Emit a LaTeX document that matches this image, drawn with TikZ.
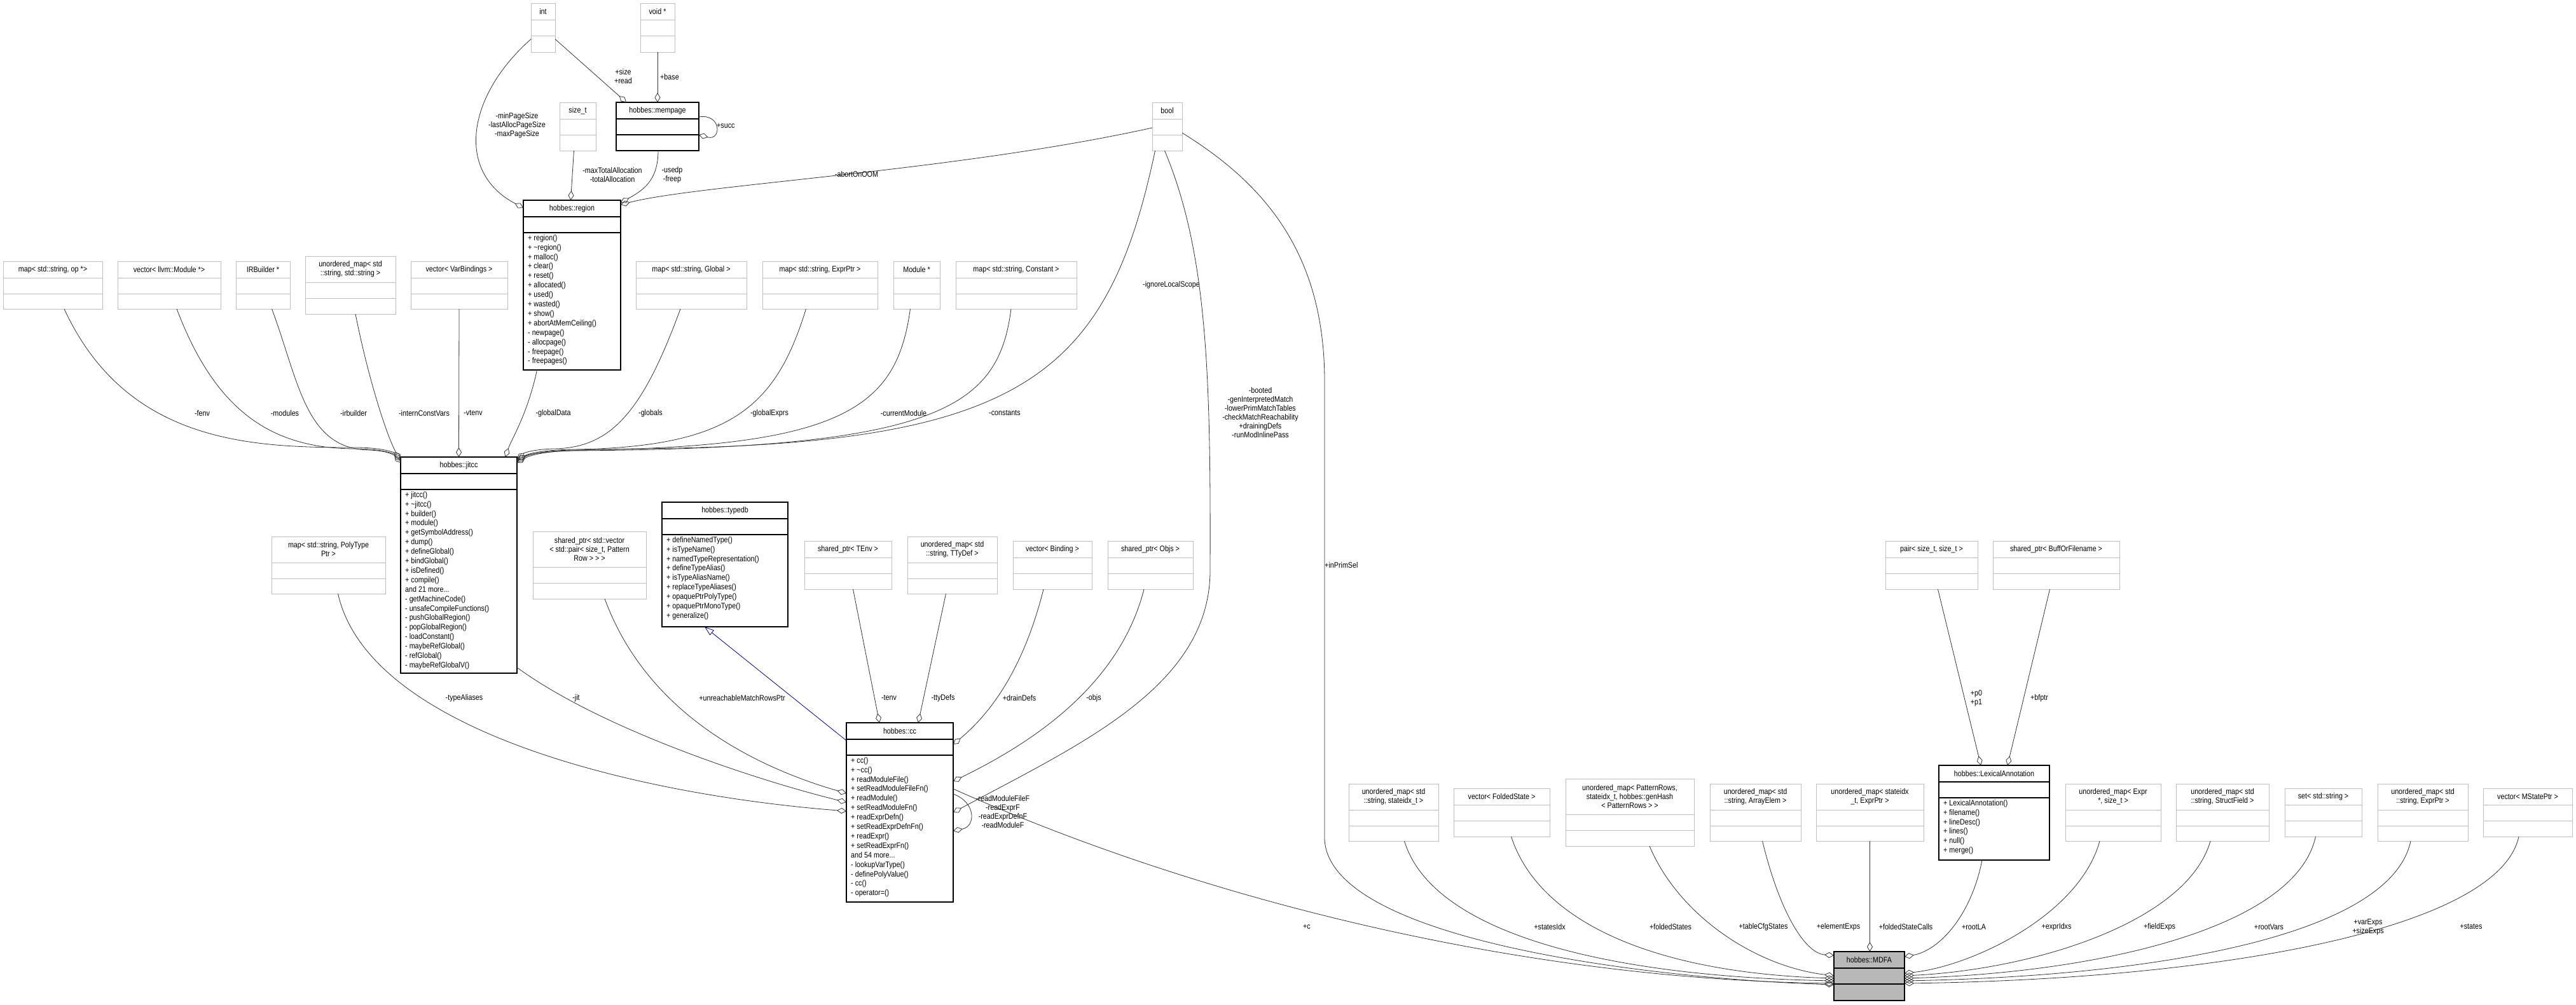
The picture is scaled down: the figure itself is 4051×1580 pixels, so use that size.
\documentclass[tikz,border=0pt]{standalone}
\usepackage{fontspec}
\setmainfont{Liberation Sans}[FakeStretch=0.86]
\usetikzlibrary{arrows.meta}
\tikzset{
  gbox/.style={draw=black!25, line width=0.9},
  kbox/.style={draw=black, line width=1.1},
  mbox/.style={draw=black, fill=black!28, line width=1.1},
  hdr/.style={font=\fontsize{12.5}{14}\selectfont, align=center, inner sep=0},
  meth/.style={font=\fontsize{12.5}{14.9}\selectfont, align=left, inner sep=0, anchor=north west},
  lbl/.style={font=\fontsize{12.5}{14}\selectfont, align=center, inner sep=0},
  agg/.style={draw=black!80, line width=0.8, -{Diamond[open,length=15pt,width=9pt]}},
  inh/.style={draw=blue!50!black, line width=0.8, -{Triangle[open,length=15pt,width=10pt]}},
}
% #1 name #2 style #3 x1 #4 y1 #5 x2 #6 y2 #7 header height #8 header text
\newcommand\ubox[8]{%
  \node[#2, anchor=north west, minimum width={#5-#3}, minimum height={#6-#4}, inner sep=0, outer sep=0] (#1) at (#3,#4) {};
  \draw[#2, fill=none] (#3,{#4+#7}) -- (#5,{#4+#7});
  \draw[#2, fill=none] (#3,{#4+#7+25}) -- (#5,{#4+#7+25});
  \node[hdr] at ({(#3+#5)/2},{#4+#7/2}) {#8};
}
\newcommand\umeth[4]{\node[meth] at ({#1+7},{#2+#3+25+3}) {#4};}
\begin{document}
\begin{tikzpicture}[x=1pt,y=-1pt]
\useasboundingbox (0,0) rectangle (4051,1580);
% boxes
\ubox{int}{gbox}{835}{5}{873}{82}{26}{int}
\ubox{void}{gbox}{1007}{5}{1061}{82}{26}{void *}
\ubox{mempage}{kbox}{969}{161}{1099}{237}{26}{hobbes::mempage}
\ubox{sizet}{gbox}{880}{161}{937}{237}{26}{size\_t}
\ubox{region}{kbox}{823}{315}{976}{582}{26}{hobbes::region}
\umeth{823}{315}{26}{+ region()\\+ \textasciitilde region()\\+ malloc()\\+ clear()\\+ reset()\\+ allocated()\\+ used()\\+ wasted()\\+ show()\\+ abortAtMemCeiling()\\- newpage()\\- allocpage()\\- freepage()\\- freepages()}
\ubox{bool}{gbox}{1812}{161}{1859}{237}{26}{bool}
\ubox{fenvB}{gbox}{5}{411}{161}{486}{26}{map< std::string, op *>}
\ubox{modB}{gbox}{185}{411}{347}{486}{26}{vector< llvm::Module *>}
\ubox{irbB}{gbox}{371}{411}{456}{486}{26}{IRBuilder *}
\ubox{icvB}{gbox}{480}{403}{622}{494}{41}{unordered\_map< std\\::string, std::string >}
\ubox{vtB}{gbox}{646}{411}{798}{486}{26}{vector< VarBindings >}
\ubox{globB}{gbox}{1000}{411}{1174}{486}{26}{map< std::string, Global >}
\ubox{gexB}{gbox}{1199}{411}{1380}{486}{26}{map< std::string, ExprPtr >}
\ubox{modpB}{gbox}{1405}{411}{1478}{486}{26}{Module *}
\ubox{constB}{gbox}{1503}{411}{1693}{486}{26}{map< std::string, Constant >}
\ubox{jitcc}{kbox}{630}{719}{813}{1059}{26}{hobbes::jitcc}
\umeth{630}{719}{26}{+ jitcc()\\+ \textasciitilde jitcc()\\+ builder()\\+ module()\\+ getSymbolAddress()\\+ dump()\\+ defineGlobal()\\+ bindGlobal()\\+ isDefined()\\+ compile()\\and 21 more...\\- getMachineCode()\\- unsafeCompileFunctions()\\- pushGlobalRegion()\\- popGlobalRegion()\\- loadConstant()\\- maybeRefGlobal()\\- refGlobal()\\- maybeRefGlobalV()}
\ubox{taB}{gbox}{427}{844}{606}{934}{41}{map< std::string, PolyType\\Ptr >}
\ubox{urB}{gbox}{838}{836}{1016}{942}{56}{shared\_ptr< std::vector\\< std::pair< size\_t, Pattern\\Row > > >}
\ubox{typedb}{kbox}{1041}{790}{1239}{986}{26}{hobbes::typedb}
\umeth{1041}{790}{26}{+ defineNamedType()\\+ isTypeName()\\+ namedTypeRepresentation()\\+ defineTypeAlias()\\+ isTypeAliasName()\\+ replaceTypeAliases()\\+ opaquePtrPolyType()\\+ opaquePtrMonoType()\\+ generalize()}
\ubox{tenvB}{gbox}{1265}{851}{1402}{927}{26}{shared\_ptr< TEnv >}
\ubox{ttyB}{gbox}{1427}{844}{1568}{934}{41}{unordered\_map< std\\::string, TTyDef >}
\ubox{bindB}{gbox}{1593}{851}{1717}{927}{26}{vector< Binding >}
\ubox{objsB}{gbox}{1742}{851}{1876}{927}{26}{shared\_ptr< Objs >}
\ubox{cc}{kbox}{1331}{1137}{1499}{1419}{26}{hobbes::cc}
\umeth{1331}{1137}{26}{+ cc()\\+ \textasciitilde cc()\\+ readModuleFile()\\+ setReadModuleFileFn()\\+ readModule()\\+ setReadModuleFn()\\+ readExprDefn()\\+ setReadExprDefnFn()\\+ readExpr()\\+ setReadExprFn()\\and 54 more...\\- lookupVarType()\\- definePolyValue()\\- cc()\\- operator=()}
\ubox{sidxB}{gbox}{2121}{1233}{2262}{1323}{41}{unordered\_map< std\\::string, stateidx\_t >}
\ubox{fsB}{gbox}{2286}{1240}{2437}{1316}{26}{vector< FoldedState >}
\ubox{prB}{gbox}{2462}{1225}{2664}{1331}{56}{unordered\_map< PatternRows,\\stateidx\_t, hobbes::genHash\\< PatternRows > >}
\ubox{aeB}{gbox}{2689}{1233}{2832}{1323}{41}{unordered\_map< std\\::string, ArrayElem >}
\ubox{fscB}{gbox}{2856}{1233}{3025}{1323}{41}{unordered\_map< stateidx\\\_t, ExprPtr >}
\ubox{pairB}{gbox}{2965}{851}{3110}{927}{26}{pair< size\_t, size\_t >}
\ubox{bofB}{gbox}{3134}{851}{3333}{927}{26}{shared\_ptr< BuffOrFilename >}
\ubox{LA}{kbox}{3049}{1204}{3223}{1353}{26}{hobbes::LexicalAnnotation}
\umeth{3049}{1204}{26}{+ LexicalAnnotation()\\+ filename()\\+ lineDesc()\\+ lines()\\+ null()\\+ merge()}
\ubox{eiB}{gbox}{3248}{1233}{3398}{1323}{41}{unordered\_map< Expr\\*, size\_t >}
\ubox{sfB}{gbox}{3422}{1233}{3568}{1323}{41}{unordered\_map< std\\::string, StructField >}
\ubox{setB}{gbox}{3593}{1240}{3714}{1316}{26}{set< std::string >}
\ubox{epB}{gbox}{3739}{1233}{3881}{1323}{41}{unordered\_map< std\\::string, ExprPtr >}
\ubox{msB}{gbox}{3905}{1240}{4045}{1316}{26}{vector< MStatePtr >}
\ubox{MDFA}{mbox}{2884}{1497}{2995}{1574}{26}{hobbes::MDFA}

% top edges
\draw[agg] ([yshift=-18]int.west) .. controls (735,150) and (715,270) .. ([yshift=-12]region.north west);
\draw[agg] ([yshift=-18]int.east) -- ([xshift=16]mempage.north west);
\draw[agg] (void.south) -- (mempage.north);
\draw[agg] ([yshift=15]mempage.east) .. controls (1135,178) and (1135,222) .. ([yshift=-13]mempage.east);
\draw[agg] ([xshift=-6]sizet.south) -- ([xshift=-2]region.north);
\draw[agg] ([xshift=1]mempage.south) .. controls (1035,285) and (1010,300) .. ([yshift=-4]region.north east);
\draw[agg] ([yshift=-2]bool.west) .. controls (1500,270) and (1100,290) .. ([yshift=-7]region.north east);
\node[lbl] at (813,197) {-minPageSize\\-lastAllocPageSize\\-maxPageSize};
\node[lbl] at (980,120) {+size\\+read};
\node[lbl, anchor=west] at (1038,121) {+base};
\node[lbl, anchor=west] at (1127,198) {+succ};
\node[lbl] at (963,275) {-maxTotalAllocation\\-totalAllocation};
\node[lbl] at (1057,275) {-usedp\\-freep};
\node[lbl] at (1347,274) {-abortOnOOM};

% bool long edges
\draw[agg] ([xshift=-19]bool.south) .. controls (1740,600) and (1600,700) .. (1000,706) .. controls (880,708) and (840,712) .. ([yshift=-3]jitcc.north east);
\node[lbl] at (1842,448) {-ignoreLocalScope};
\draw[agg] ([xshift=-4]bool.south) .. controls (1900,400) and (1904,600) .. (1903,900) .. controls (1901,1080) and (1700,1170) .. ([yshift=-8]cc.east |- 0,1270);
\node[lbl] at (1982,649) {-booted\\-genInterpretedMatch\\-lowerPrimMatchTables\\-checkMatchReachability\\+drainingDefs\\-runModInlinePass};
\draw[agg] ([yshift=-10]bool.east) .. controls (1990,290) and (2083,400) .. (2083,600) -- (2083,1320) .. controls (2090,1480) and (2600,1540) .. ([yshift=-52]MDFA.north west);
\node[lbl, anchor=west] at (2083,889) {+inPrimSel};

% jitcc incoming
\draw[agg] ([xshift=18]fenvB.south) .. controls (200,700) and (400,704) .. (560,704) .. controls (600,704) and (620,712) .. ([yshift=-3]jitcc.north west);
\draw[agg] ([xshift=12]modB.south) .. controls (340,650) and (430,706) .. (560,706) .. controls (600,706) and (620,714) .. ([yshift=-6]jitcc.north west);
\draw[agg] ([xshift=14]irbB.south) .. controls (470,600) and (480,706) .. (580,708) .. controls (610,709) and (620,716) .. ([yshift=-9]jitcc.north west);
\draw[agg] ([xshift=8]icvB.south) .. controls (580,600) and (610,690) .. ([yshift=-5]jitcc.north west);
\draw[agg] (vtB.south) -- (jitcc.north);
\draw[agg] ([xshift=-55]region.south) .. controls (830,650) and (805,690) .. ([xshift=73]jitcc.north);
\draw[agg] ([xshift=-17]globB.south) .. controls (1010,650) and (960,705) .. (870,706) .. controls (840,707) and (825,712) .. ([yshift=-3]jitcc.north east);
\draw[agg] ([xshift=-22]gexB.south) .. controls (1220,640) and (1150,704) .. (900,707) .. controls (850,708) and (830,714) .. ([yshift=-5]jitcc.north east);
\draw[agg] ([xshift=-10]modpB.south) .. controls (1410,640) and (1330,705) .. (900,708) .. controls (850,709) and (830,716) .. ([yshift=-7]jitcc.north east);
\draw[agg] ([xshift=-8]constB.south) .. controls (1570,640) and (1480,706) .. (900,709) .. controls (850,710) and (830,718) .. ([yshift=-9]jitcc.north east);
\node[lbl] at (318,650) {-fenv};
\node[lbl] at (448,650) {-modules};
\node[lbl] at (556,650) {-irbuilder};
\node[lbl] at (667,650) {-internConstVars};
\node[lbl] at (744,650) {-vtenv};
\node[lbl] at (870,650) {-globalData};
\node[lbl] at (1023,650) {-globals};
\node[lbl] at (1210,650) {-globalExprs};
\node[lbl] at (1421,650) {-currentModule};
\node[lbl] at (1580,650) {-constants};

% cc incoming
\draw[agg] ([xshift=15]taB.south) .. controls (580,1150) and (1000,1250) .. ([yshift=-139]cc.north west);
\draw[agg] ([yshift=9]jitcc.south east) .. controls (950,1150) and (1200,1230) .. ([yshift=-125]cc.north west);
\draw[agg] ([xshift=24]urB.south) .. controls (1020,1130) and (1200,1210) .. ([yshift=-111]cc.north west);
\draw[inh] ([yshift=-28]cc.north west) -- ([xshift=-32]typedb.south);
\draw[agg] ([xshift=8]tenvB.south) -- ([xshift=-32]cc.north);
\draw[agg] ([xshift=-10]ttyB.south) -- ([xshift=29]cc.north);
\draw[agg] ([xshift=-14]bindB.south) .. controls (1610,1050) and (1560,1120) .. ([yshift=-34]cc.north east);
\draw[agg] ([xshift=-10]objsB.south) .. controls (1760,1080) and (1620,1170) .. ([yshift=-92]cc.north east);
\draw[agg] ([yshift=-112]cc.north east) .. controls (1535,1262) and (1535,1300) .. ([yshift=-170]cc.north east);
\node[lbl] at (730,1098) {-typeAliases};
\node[lbl] at (906,1098) {-jit};
\node[lbl] at (1167,1098) {+unreachableMatchRowsPtr};
\node[lbl] at (1398,1098) {-tenv};
\node[lbl] at (1483,1098) {-ttyDefs};
\node[lbl] at (1603,1098) {+drainDefs};
\node[lbl] at (1720,1098) {-objs};
\node[lbl] at (1577,1277) {-readModuleFileF\\-readExprF\\-readExprDefnF\\-readModuleF};

% LexicalAnnotation incoming
\draw[agg] ([xshift=10]pairB.south) -- ([xshift=-21]LA.north);
\draw[agg] ([xshift=-10]bofB.south) -- ([xshift=21]LA.north);
\node[lbl] at (3108,1098) {+p0\\+p1};
\node[lbl] at (3207,1098) {+bfptr};

% MDFA incoming
\draw[agg] ([yshift=-104]cc.north east) .. controls (1900,1420) and (2400,1540) .. ([yshift=-50]MDFA.north west);
\draw[agg] ([xshift=17]sidxB.south) .. controls (2250,1460) and (2500,1535) .. ([yshift=-46]MDFA.north west);
\draw[agg] ([xshift=15]fsB.south) .. controls (2420,1450) and (2600,1530) .. ([yshift=-42]MDFA.north west);
\draw[agg] ([xshift=31]prB.south) .. controls (2640,1440) and (2760,1520) .. ([yshift=-38]MDFA.north west);
\draw[agg] ([xshift=11]aeB.south) .. controls (2800,1440) and (2840,1500) .. ([yshift=-6]MDFA.north west);
\draw[agg] (fscB.south) -- (MDFA.north -| fscB.south);
\draw[agg] ([xshift=-19]LA.south) .. controls (3100,1440) and (3050,1495) .. ([yshift=-8]MDFA.north east);
\draw[agg] ([xshift=-21]eiB.south) .. controls (3270,1440) and (3100,1520) .. ([yshift=-34]MDFA.north east);
\draw[agg] ([xshift=-19]sfB.south) .. controls (3440,1450) and (3200,1525) .. ([yshift=-38]MDFA.north east);
\draw[agg] ([xshift=-12]setB.south) .. controls (3610,1460) and (3300,1530) .. ([yshift=-42]MDFA.north east);
\draw[agg] ([xshift=-19]epB.south) .. controls (3760,1470) and (3400,1535) .. ([yshift=-46]MDFA.north east);
\draw[agg] ([xshift=-14]msB.south) .. controls (3930,1460) and (3500,1540) .. ([yshift=-50]MDFA.north east);
\node[lbl] at (2055,1458) {+c};
\node[lbl] at (2437,1458) {+statesIdx};
\node[lbl] at (2627,1458) {+foldedStates};
\node[lbl] at (2773,1458) {+tableCfgStates};
\node[lbl] at (2891,1458) {+elementExps};
\node[lbl] at (2997,1458) {+foldedStateCalls};
\node[lbl] at (3104,1458) {+rootLA};
\node[lbl] at (3234,1458) {+exprIdxs};
\node[lbl] at (3396,1458) {+fieldExps};
\node[lbl] at (3568,1458) {+rootVars};
\node[lbl] at (3724,1458) {+varExps\\+sizeExps};
\node[lbl] at (3886,1458) {+states};
\end{tikzpicture}
\end{document}
